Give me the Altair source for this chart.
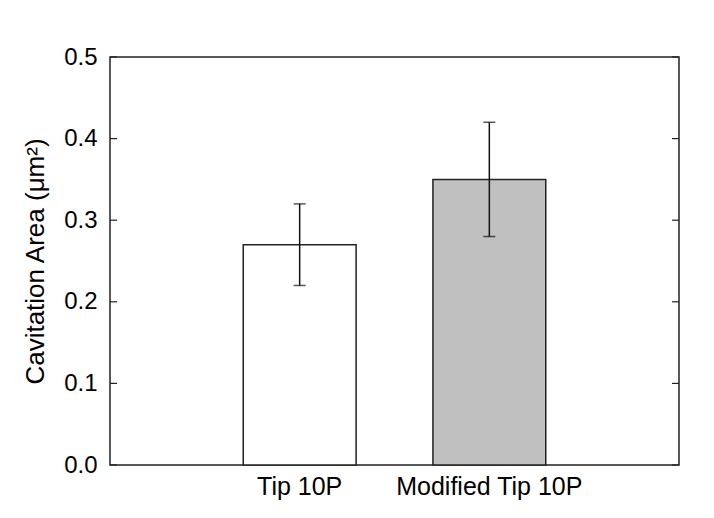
import altair as alt
import pandas as pd

categories = ["Tip 10P", "Modified Tip 10P"]
means = [0.27, 0.35]
err_low = [0.22, 0.28]
err_high = [0.32, 0.42]
fills = ["#ffffff", "#c0c0c0"]
tick_values = [0.0, 0.1, 0.2, 0.3, 0.4, 0.5]

df = pd.DataFrame({"cat": categories, "mean": means, "lo": err_low, "hi": err_high})
ticks_df = pd.DataFrame({"v": tick_values})

FONT = "Liberation Sans"
W, H = 569, 408

x_enc = alt.X("cat:N", sort=categories,
              scale=alt.Scale(paddingInner=0.405, paddingOuter=0.7025),
              axis=alt.Axis(title=None, labelAngle=0, ticks=False, domain=False,
                            labelFontSize=25, labelFont=FONT, labelColor="black",
                            labelPadding=9, labelLimit=400))
y_scale = alt.Scale(domain=[0, 0.5], nice=False, zero=True)

bars = alt.Chart(df).mark_bar(stroke="#222", strokeWidth=1.5).encode(
    x=x_enc,
    y=alt.Y("mean:Q", scale=y_scale,
            axis=alt.Axis(title="Cavitation Area (\u03bcm\u00b2)", values=tick_values,
                          format=".1f", ticks=False, domain=False, grid=False,
                          labelFontSize=24, labelFont=FONT, labelColor="black",
                          labelPadding=13, titleFontSize=26, titleFont=FONT,
                          titleFontWeight="normal", titleColor="black",
                          titlePadding=15)),
    color=alt.Color("cat:N", scale=alt.Scale(domain=categories, range=fills), legend=None),
)

err = alt.Chart(df).mark_rule(color="#111", strokeWidth=1.5).encode(
    x=alt.X("cat:N", sort=categories),
    y=alt.Y("lo:Q", scale=y_scale),
    y2="hi:Q",
)
cap_lo = alt.Chart(df).mark_tick(color="#111", thickness=1.5, size=12).encode(
    x=alt.X("cat:N", sort=categories), y=alt.Y("lo:Q", scale=y_scale))
cap_hi = alt.Chart(df).mark_tick(color="#111", thickness=1.5, size=12).encode(
    x=alt.X("cat:N", sort=categories), y=alt.Y("hi:Q", scale=y_scale))

left_ticks = alt.Chart(ticks_df).mark_rule(color="#222", strokeWidth=1.2).encode(
    y=alt.Y("v:Q", scale=y_scale), x=alt.value(0), x2=alt.value(7))
right_ticks = alt.Chart(ticks_df).mark_rule(color="#222", strokeWidth=1.2).encode(
    y=alt.Y("v:Q", scale=y_scale), x=alt.value(W - 7), x2=alt.value(W))

chart = alt.layer(bars, err, cap_lo, cap_hi, left_ticks, right_ticks).properties(
    width=W, height=H,
    autosize=alt.AutoSizeParams(type="none"),
    padding={"left": 102, "top": 49, "right": 27, "bottom": 45},
    background="white",
).configure_view(stroke="#222", strokeWidth=1.5)

chart.save("out.html", embed_options={"renderer": "svg", "actions": False})
